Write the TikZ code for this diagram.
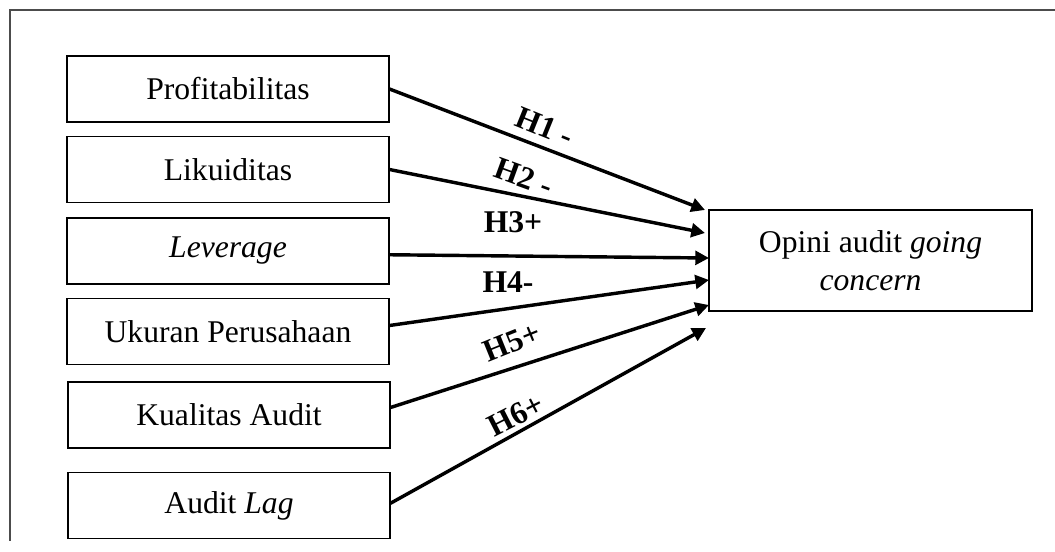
\documentclass[tikz,border=0pt]{standalone}
\usepackage{fontspec}
\setmainfont{Liberation Serif}
\usetikzlibrary{arrows.meta}

\begin{document}
\begin{tikzpicture}[x=0.01333cm, y=-0.01333cm,
    varbox/.style={draw, line width=0.5pt, minimum width=4.29cm, minimum height=0.88cm, inner sep=0pt, font=\fontsize{12}{14.5}\selectfont},
    hyp/.style={inner sep=0pt, font=\fontsize{12}{14.5}\selectfont\bfseries},
    link/.style={line width=1.3pt, -{Triangle[length=5.2pt, width=5.2pt]}}]

    \useasboundingbox (0,0) rectangle (1055,551);

    % Draw frame
    \draw[line width=0.5pt, black!70] (1055,10) -- (10,10) -- (10,541);

    % Independent variables
    \node[varbox] (prof) at (228,89) {Profitabilitas};
    \node[varbox] (liku) at (228,169.5) {Likuiditas};
    \node[varbox] (lev) at (228,251) {\textit{Leverage}};
    \node[varbox] (ukuran) at (228,331.5) {Ukuran Perusahaan};
    \node[varbox] (kualitas) at (229,415) {Kualitas Audit};
    \node[varbox] (lag) at (229,505.5) {Audit \textit{Lag}};

    % Dependent variable
    \node[varbox, minimum width=4.31cm, minimum height=1.35cm, align=center] (opini) at (870.5,260.5) {Opini audit \textit{going}\\\textit{concern}};

    \coordinate (t1) at (705,210);
    \coordinate (t2) at (705,233);
    \coordinate (t3) at (709,258);
    \coordinate (t4) at (709,280);
    \coordinate (t5) at (709,305);
    \coordinate (t6) at (706,328);

    \draw[link] (prof.east) -- (t1);
    \draw[link] (liku.east) -- (t2);
    \draw[link] ([yshift=-0.05cm]lev.east) -- (t3);
    \draw[link] ([yshift=0.08cm]ukuran.east) -- (t4);
    \draw[link] ([yshift=0.1cm]kualitas.east) -- (t5);
    \draw[link] ([yshift=0.03cm]lag.east) -- (t6);

    % Hypotheses
    \node[hyp, rotate=-22] (h1) at (545,127) {H1 -};
    \node[hyp, rotate=-20] (h2) at (524,177) {H2 -};
    \node[hyp] (h3) at (513,222) {H3+};
    \node[hyp] (h4) at (508,282) {H4-};
    \node[hyp, rotate=22] (h5) at (512,342) {H5+};
    \node[hyp, rotate=27] (h6) at (516,415) {H6+};

\end{tikzpicture}
\end{document}
